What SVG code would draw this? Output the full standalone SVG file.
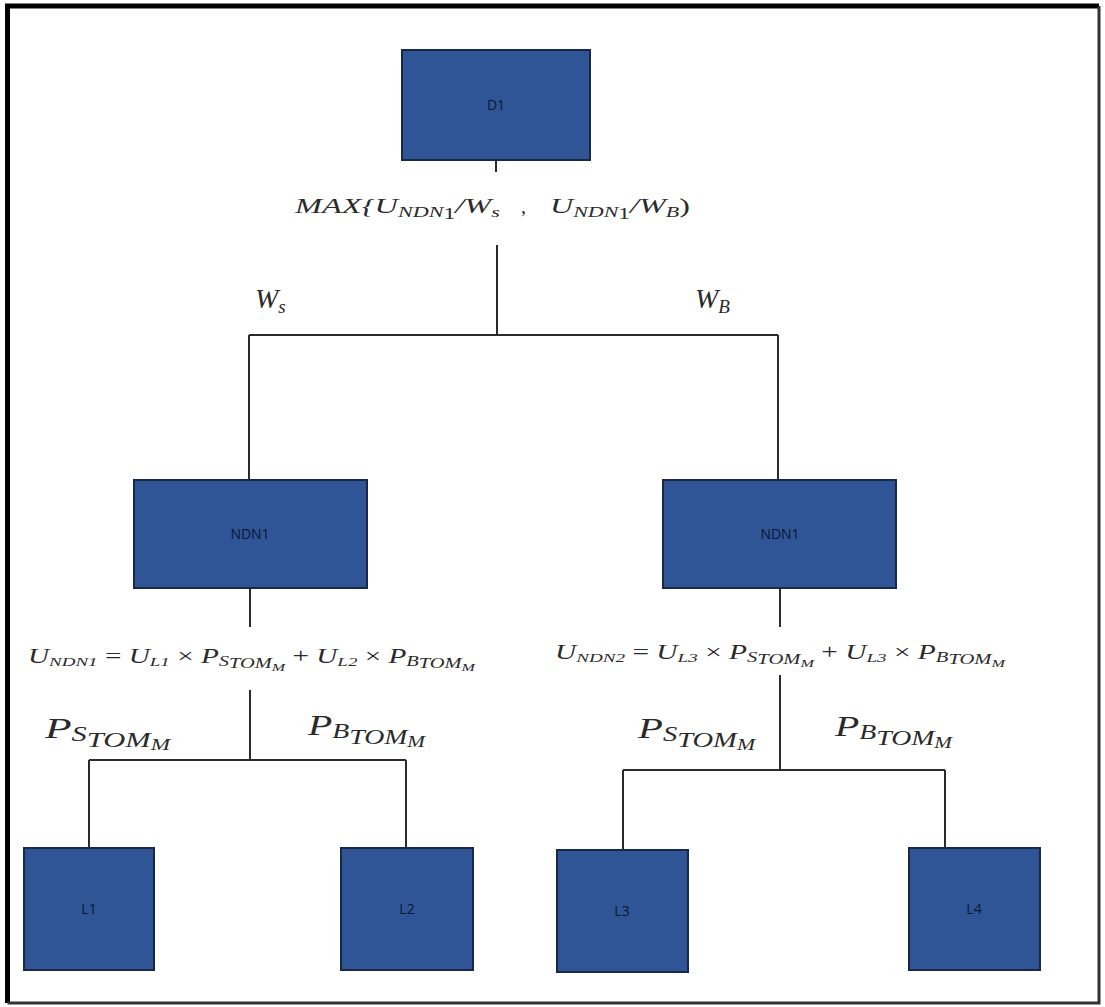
<svg xmlns="http://www.w3.org/2000/svg" width="1105" height="1007" viewBox="0 0 1105 1007">
<style>
.box{fill:#2F5597;stroke:#1B2747;stroke-width:2}
.lbl{font-family:"Open Sans","Liberation Sans",sans-serif;font-size:14px;fill:#0B1630;text-anchor:middle}
.ln{stroke:#2b2b2b;stroke-width:2;fill:none}
.m{font-family:"Liberation Serif",serif;font-style:italic;fill:#2a2a2a}
.up{font-style:normal}
</style>
<rect width="1105" height="1007" fill="#fff"/>
<g id="frame">
<path d="M7.5,1003 V6 H1099" fill="none" stroke="#000" stroke-width="5"/>
<path d="M1099,6 V1003 H7.5" fill="none" stroke="#333" stroke-width="3"/>
</g>
<g id="connectors">
<path class="ln" d="M496,160 V172"/>
<path class="ln" d="M497,245 V335 M249,335 H778 M249,335 V480 M778,335 V480"/>
<path class="ln" d="M250,588 V627 M250,690 V760 M89,760 H406 M89,760 V848 M406,760 V848"/>
<path class="ln" d="M780,588 V627 M780,675 V770 M623,770 H945 M623,770 V850 M945,770 V848"/>
</g>
<g id="D1"><rect class="box" x="402" y="50" width="188" height="110"/><text class="lbl" x="496" y="110">D1</text></g>
<g id="NDN1-left"><rect class="box" x="134" y="480" width="233" height="108"/><text class="lbl" x="250" y="539">NDN1</text></g>
<g id="NDN1-right"><rect class="box" x="663" y="480" width="233" height="108"/><text class="lbl" x="780" y="539">NDN1</text></g>
<g id="L1"><rect class="box" x="24" y="848" width="130" height="122"/><text class="lbl" x="89" y="914">L1</text></g>
<g id="L2"><rect class="box" x="341" y="848" width="132" height="122"/><text class="lbl" x="407" y="914">L2</text></g>
<g id="L3"><rect class="box" x="557" y="850" width="131" height="122"/><text class="lbl" x="622" y="916">L3</text></g>
<g id="L4"><rect class="box" x="909" y="848" width="131" height="122"/><text class="lbl" x="974" y="914">L4</text></g>
<g id="labels">
<text class="m" x="295" y="213" font-size="22" textLength="205" lengthAdjust="spacingAndGlyphs">MAX{U<tspan font-size="15" dy="4">NDN</tspan><tspan class="up" font-size="16" dy="2">1</tspan><tspan dy="-6">/W</tspan><tspan font-size="15" dy="4">s</tspan></text>
<text class="m up" x="521" y="213" font-size="20">,</text>
<text class="m" x="550" y="213" font-size="22" textLength="140" lengthAdjust="spacingAndGlyphs">U<tspan font-size="15" dy="4">NDN</tspan><tspan class="up" font-size="16" dy="2">1</tspan><tspan dy="-6">/W</tspan><tspan font-size="15" dy="4">B</tspan><tspan dy="-4" class="up">)</tspan></text>
<text class="m" x="255" y="308" font-size="28">W<tspan font-size="19" dy="5">s</tspan></text>
<text class="m" x="695" y="308" font-size="28">W<tspan font-size="19" dy="5">B</tspan></text>
<text class="m" x="28" y="663" font-size="20" textLength="447" lengthAdjust="spacingAndGlyphs">U<tspan font-size="13" dy="3">NDN1</tspan><tspan class="up" dy="-3"> = </tspan>U<tspan font-size="13" dy="3">L1</tspan><tspan class="up" dy="-3"> × </tspan>P<tspan font-size="14" dy="3">S</tspan><tspan font-size="14" dy="2">TOM</tspan><tspan font-size="11" dy="3">M</tspan><tspan class="up" dy="-8"> + </tspan>U<tspan font-size="13" dy="3">L2</tspan><tspan class="up" dy="-3"> × </tspan>P<tspan font-size="14" dy="3">B</tspan><tspan font-size="14" dy="2">TOM</tspan><tspan font-size="11" dy="3">M</tspan></text>
<text class="m" x="555" y="659" font-size="20" textLength="450" lengthAdjust="spacingAndGlyphs">U<tspan font-size="13" dy="3">NDN2</tspan><tspan class="up" dy="-3"> = </tspan>U<tspan font-size="13" dy="3">L3</tspan><tspan class="up" dy="-3"> × </tspan>P<tspan font-size="14" dy="3">S</tspan><tspan font-size="14" dy="2">TOM</tspan><tspan font-size="11" dy="3">M</tspan><tspan class="up" dy="-8"> + </tspan>U<tspan font-size="13" dy="3">L3</tspan><tspan class="up" dy="-3"> × </tspan>P<tspan font-size="14" dy="3">B</tspan><tspan font-size="14" dy="2">TOM</tspan><tspan font-size="11" dy="3">M</tspan></text>
<text class="m" x="45" y="738" font-size="30" textLength="125" lengthAdjust="spacingAndGlyphs">P<tspan font-size="21" dy="3">S</tspan><tspan font-size="21" dy="6">TOM</tspan><tspan font-size="16" dy="3">M</tspan></text>
<text class="m" x="308" y="735" font-size="30" textLength="117" lengthAdjust="spacingAndGlyphs">P<tspan font-size="21" dy="3">B</tspan><tspan font-size="21" dy="6">TOM</tspan><tspan font-size="16" dy="3">M</tspan></text>
<text class="m" x="638" y="738" font-size="30" textLength="117" lengthAdjust="spacingAndGlyphs">P<tspan font-size="21" dy="3">S</tspan><tspan font-size="21" dy="6">TOM</tspan><tspan font-size="16" dy="3">M</tspan></text>
<text class="m" x="835" y="736" font-size="30" textLength="117" lengthAdjust="spacingAndGlyphs">P<tspan font-size="21" dy="3">B</tspan><tspan font-size="21" dy="6">TOM</tspan><tspan font-size="16" dy="3">M</tspan></text>
</g>
</svg>
